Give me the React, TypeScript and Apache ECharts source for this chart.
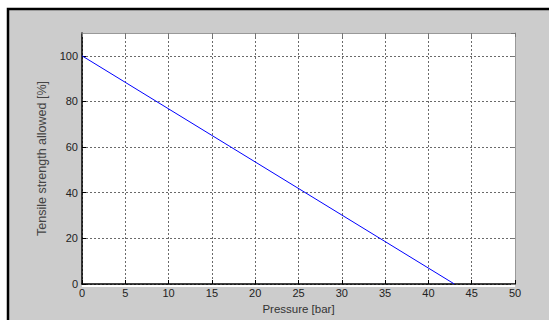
import React, { useEffect, useRef } from "react";
import * as echarts from "echarts";

const pressure = [0, 43];
const strength = [100, 0];
const xTicks = { min: 0, max: 50, interval: 5 };
const yTicks = { min: 0, max: 110, interval: 20 };
const xName = "Pressure [bar]";
const yName = "Tensile strength allowed [%]";

export default function App() {
  const ref = useRef<HTMLDivElement>(null);
  useEffect(() => {
    if (!ref.current) return;
    const chart = echarts.init(ref.current, null, { renderer: "svg" });
    const font = "Liberation Sans, Arial, sans-serif";
    const split = { show: true, lineStyle: { color: "#6a6a6a", type: [2, 2] as any, width: 1 } };
    chart.setOption({
      animation: false,
      backgroundColor: "#ffffff",
      graphic: [
        {
          type: "rect",
          z: -10,
          silent: true,
          shape: { x: 8, y: 9, width: 580, height: 340 },
          style: { fill: "#cccccc", stroke: "#000000", lineWidth: 2.5 },
        },
        {
          type: "rect",
          z: -9,
          silent: true,
          shape: { x: 82, y: 33, width: 433, height: 254 },
          style: { fill: "#ffffff" },
        },
      ],
      grid: { left: 82, top: 33, right: 34, bottom: 33, containLabel: false },
      xAxis: [
        {
          type: "value",
          min: xTicks.min,
          max: xTicks.max,
          interval: xTicks.interval,
          position: "bottom",
          name: xName,
          nameLocation: "middle",
          nameGap: 19,
          nameTextStyle: { color: "#333", fontSize: 11.5, fontFamily: font },
          axisLine: { show: true, onZero: false, lineStyle: { color: "#000", width: 1.5 } },
          axisTick: { show: true, inside: true, length: 4, lineStyle: { color: "#000" } },
          axisLabel: { color: "#222", fontSize: 11, fontFamily: font, margin: 3 },
          splitLine: split,
        },
        {
          type: "value",
          min: xTicks.min,
          max: xTicks.max,
          interval: xTicks.interval,
          position: "top",
          axisLine: { show: true, onZero: false, lineStyle: { color: "#999", width: 1 } },
          axisTick: { show: true, inside: true, length: 4, lineStyle: { color: "#777" } },
          axisLabel: { show: false },
          splitLine: { show: false },
        },
      ],
      yAxis: [
        {
          type: "value",
          min: yTicks.min,
          max: yTicks.max,
          interval: yTicks.interval,
          position: "left",
          name: yName,
          nameLocation: "middle",
          nameGap: 32,
          nameTextStyle: { color: "#444", fontSize: 12.5, fontFamily: font },
          axisLine: { show: true, onZero: false, lineStyle: { color: "#000", width: 1.5 } },
          axisTick: { show: true, inside: true, length: 4, lineStyle: { color: "#000" } },
          axisLabel: { color: "#222", fontSize: 11, fontFamily: font, margin: 4, showMaxLabel: false },
          splitLine: split,
        },
        {
          type: "value",
          min: yTicks.min,
          max: yTicks.max,
          interval: yTicks.interval,
          position: "right",
          axisLine: { show: true, onZero: false, lineStyle: { color: "#999", width: 1 } },
          axisTick: { show: true, inside: true, length: 4, lineStyle: { color: "#777" } },
          axisLabel: { show: false },
          splitLine: { show: false },
        },
      ],
      series: [
        {
          type: "line",
          xAxisIndex: 0,
          yAxisIndex: 0,
          data: pressure.map((p, i) => [p, strength[i]]),
          showSymbol: false,
          lineStyle: { color: "#0000ff", width: 1 },
          z: 5,
        },
      ],
    });
    return () => chart.dispose();
  }, []);
  return (
    <div
      ref={ref}
      style={{ position: "absolute", left: 0, top: 0, width: 549, height: 320 }}
    />
  );
}
